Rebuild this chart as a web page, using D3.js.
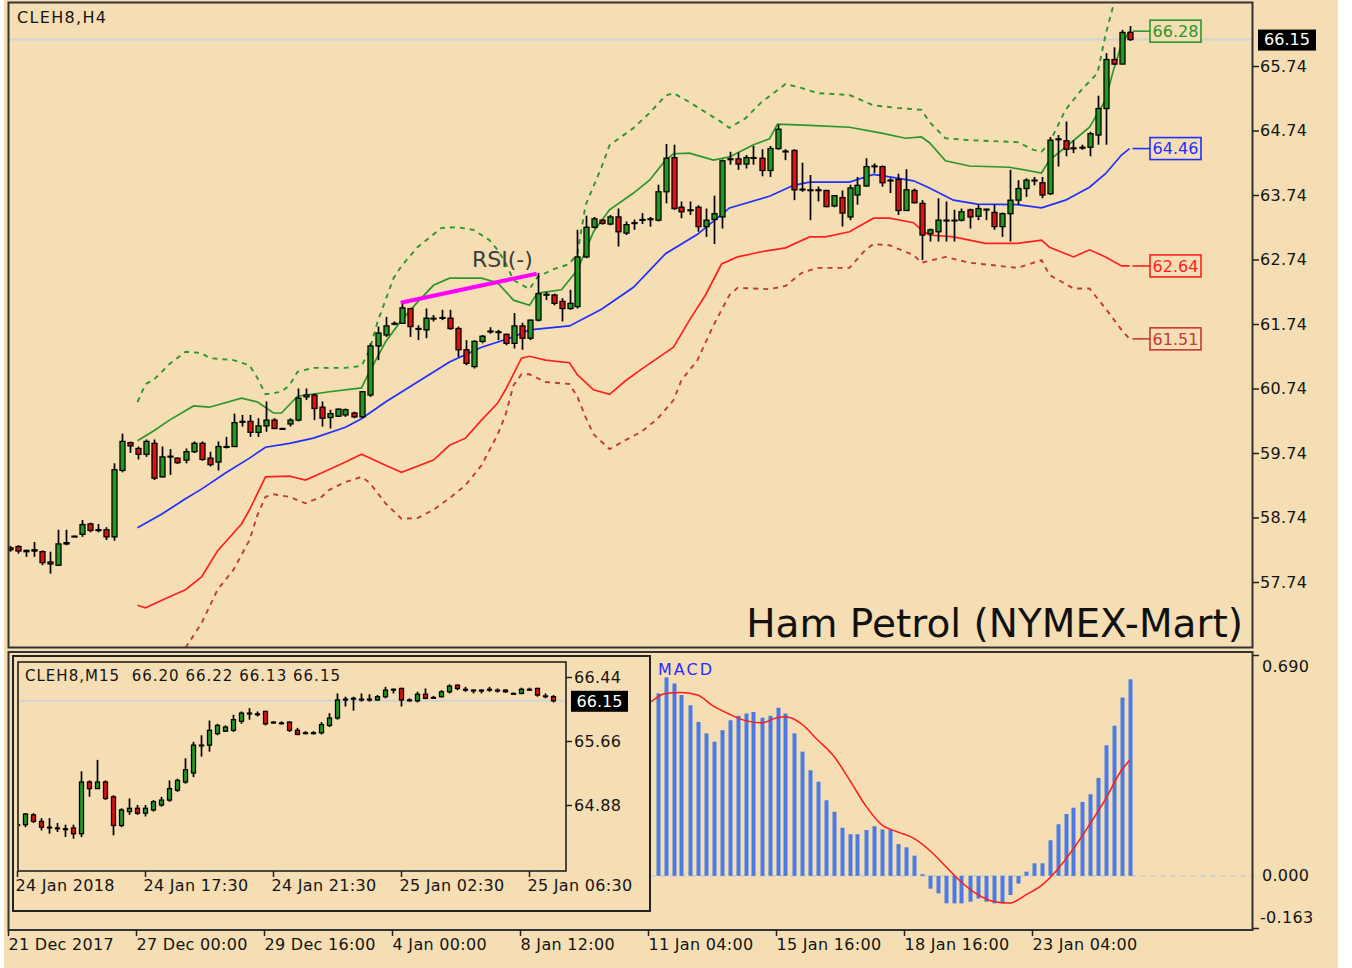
<!DOCTYPE html>
<html>
<head>
<meta charset="utf-8">
<script src="https://cdn.jsdelivr.net/npm/d3@7"></script>
<style>
body { margin: 0; background: #fff; }
svg text { font-family: "DejaVu Sans", sans-serif; }
</style>
</head>
<body>
<div id="chart"></div>
<script>
// H4 candles, bar 0 = 21 Dec 2017
const mainOpen = [58.27,58.29,58.23,58.22,58.21,58.05,58.00,58.33,58.45,58.48,58.64,58.55,58.55,58.44,59.47,59.90,59.81,59.72,59.89,59.37,
  59.69,59.66,59.63,59.76,59.89,59.66,59.60,59.84,59.84,60.23,60.23,60.06,60.16,60.25,60.12,60.19,60.25,60.61,60.64,60.45,
  60.29,60.31,60.33,60.36,60.30,60.64,61.40,61.57,61.74,61.75,61.98,61.67,61.65,61.83,61.83,61.83,61.67,61.34,61.08,61.47,
  61.62,61.62,61.58,61.44,61.71,61.52,61.80,62.19,62.19,62.09,61.98,62.01,62.78,63.24,63.35,63.29,63.40,63.15,63.30,63.35,
  63.36,63.35,63.79,64.32,63.55,63.50,63.55,63.25,63.36,63.40,64.29,64.30,64.22,64.31,64.31,64.12,64.46,64.41,64.43,63.82,
  63.81,63.82,63.81,63.57,63.70,63.40,63.74,63.88,64.18,64.18,63.96,63.98,63.50,63.81,63.61,63.14,63.17,63.34,63.34,63.35,
  63.51,63.41,63.51,63.47,63.25,63.45,63.66,63.84,63.96,63.93,63.76,64.60,64.58,64.46,64.47,64.48,64.67,65.08,65.84,65.77,66.26];
const mainHigh = [58.30,58.31,58.24,58.36,58.23,58.21,58.55,58.55,58.46,58.70,58.66,58.64,58.59,59.58,60.04,59.92,59.84,59.95,59.95,59.84,
  59.80,59.67,59.81,59.92,59.92,59.76,59.92,59.99,60.35,60.33,60.33,60.28,60.54,60.28,60.13,60.28,60.74,60.74,60.66,60.54,
  60.41,60.43,60.43,60.38,60.69,61.44,61.70,61.85,61.78,62.06,61.98,61.72,61.98,61.88,61.96,61.96,61.70,61.49,61.49,61.57,
  61.69,61.65,61.59,61.91,61.76,61.81,62.53,62.24,62.21,62.14,62.27,63.20,63.42,63.40,63.36,63.43,63.53,63.33,63.36,63.46,
  63.40,63.90,64.53,64.52,63.64,63.64,63.58,63.53,63.73,64.29,64.41,64.40,64.36,64.50,64.45,64.50,64.83,64.45,64.45,64.24,
  64.05,63.87,63.82,63.74,63.81,63.90,64.02,64.31,64.23,64.20,64.00,64.07,64.14,63.84,63.66,63.22,63.69,63.64,63.51,63.53,
  63.53,63.59,63.53,63.59,63.47,64.13,63.97,64.00,64.02,64.02,64.64,64.67,64.88,64.59,64.52,64.72,65.28,65.94,66.03,66.30,66.36];
const mainLow = [58.21,58.18,58.13,58.13,58.00,57.87,57.99,58.31,58.44,58.44,58.51,58.51,58.39,58.38,59.44,59.74,59.64,59.68,59.32,59.36,
  59.40,59.57,59.58,59.74,59.62,59.53,59.47,59.81,59.84,60.15,59.99,59.99,60.07,60.11,60.11,60.15,60.23,60.56,60.25,60.15,
  60.12,60.30,60.30,60.28,60.28,60.61,61.18,61.54,61.72,61.75,61.54,61.49,61.52,61.78,61.80,61.65,61.23,61.10,61.05,61.44,
  61.59,61.49,61.41,61.36,61.34,61.49,61.78,62.11,62.03,61.78,61.96,61.98,62.76,63.22,63.28,63.27,62.94,63.12,63.20,63.29,
  63.25,63.33,63.61,63.51,63.38,63.43,63.17,63.09,62.98,63.22,64.21,64.13,64.15,64.21,64.03,64.02,64.44,64.28,63.66,63.79,
  63.35,63.64,63.55,63.55,63.25,63.35,63.59,63.87,64.08,63.87,63.77,63.43,63.50,63.61,62.73,63.02,63.02,63.02,63.02,63.33,
  63.22,63.35,63.35,63.20,63.09,63.02,63.59,63.71,63.89,63.69,63.74,64.18,64.34,64.39,64.44,64.34,64.52,64.52,65.76,65.77,66.13];
const mainClose = [58.24,58.22,58.21,58.24,58.04,58.02,58.33,58.35,58.45,58.63,58.54,58.55,58.44,59.48,59.92,59.85,59.72,59.92,59.35,59.68,
  59.69,59.59,59.76,59.89,59.64,59.56,59.84,59.84,60.21,60.23,60.06,60.16,60.25,60.12,60.12,60.25,60.59,60.64,60.43,60.28,
  60.35,60.42,60.41,60.30,60.69,61.40,61.60,61.71,61.75,61.99,61.70,61.67,61.83,61.83,61.84,61.67,61.34,61.13,61.47,61.55,
  61.63,61.62,61.44,61.71,61.52,61.80,62.21,62.20,62.06,61.98,62.06,62.78,63.24,63.37,63.30,63.40,63.17,63.28,63.31,63.36,
  63.37,63.79,64.31,63.53,63.48,63.51,63.25,63.35,63.45,64.27,64.30,64.22,64.32,64.32,64.12,64.46,64.76,64.42,63.82,63.83,
  63.82,63.81,63.56,63.73,63.46,63.85,63.89,64.18,64.19,63.93,63.97,63.50,63.82,63.62,63.12,63.20,63.35,63.35,63.35,63.48,
  63.40,63.53,63.52,63.25,63.45,63.66,63.84,63.97,63.97,63.74,64.59,64.61,64.45,64.47,64.48,64.69,65.08,65.84,65.77,66.26,66.15];

// bands: [bar index] -> price
const midIdx = [16,19,22,24,27,30,32,35,38,42,44,47,51,55,59,63,65,70,74,78,82,86,90,95,98,100,105,108,110,113,115,118,121,126,129,132,135,137,139,140];
const midVal = [58.58,58.79,59.03,59.18,59.43,59.66,59.83,59.89,59.97,60.14,60.27,60.53,60.84,61.15,61.38,61.54,61.65,61.71,61.97,62.31,62.83,63.13,63.54,63.72,63.89,63.94,63.94,64.06,64.02,63.96,63.85,63.66,63.60,63.59,63.54,63.66,63.86,64.07,64.36,64.46];
const upIdx = [16,18,20,23,25,29,31,33,34,36,40,44,45,46,47,49,51,53,55,59,61,63,65,66,69,71,73,75,78,80,82,83,85,88,90,93,95,96,100,105,109,112,114,115,117,120,125,129,130,132,135,137,138,139,140];
const upVal = [59.93,60.08,60.25,60.47,60.45,60.59,60.53,60.36,60.36,60.62,60.69,60.75,61.00,61.23,61.46,61.80,62.08,62.34,62.45,62.45,62.38,62.11,62.03,62.22,62.27,62.58,63.17,63.51,63.77,63.97,64.28,64.38,64.39,64.28,64.33,64.52,64.61,64.84,64.82,64.79,64.70,64.62,64.64,64.55,64.27,64.19,64.17,64.08,64.28,64.48,64.79,65.21,65.68,66.07,66.28];
const lowIdx = [16,17,20,22,24,26,29,30,32,35,37,39,42,44,47,49,53,55,57,59,61,62,64,65,67,70,71,73,75,77,79,83,85,87,89,91,94,97,100,102,105,108,110,113,114,115,118,122,126,129,130,133,135,137,139,140];
const lowVal = [57.38,57.34,57.51,57.62,57.82,58.22,58.64,58.86,59.37,59.38,59.32,59.43,59.60,59.72,59.55,59.44,59.63,59.86,59.97,60.25,60.51,60.72,61.21,61.24,61.18,61.14,60.95,60.72,60.65,60.86,61.04,61.38,61.80,62.19,62.67,62.78,62.86,62.92,63.09,63.09,63.17,63.38,63.38,63.31,63.20,63.12,63.09,62.99,62.99,63.04,62.93,62.78,62.89,62.78,62.64,62.64];
const up2Idx = [16,17,18,20,22,24,25,28,30,31,32,34,35,36,38,42,44,45,46,48,49,51,54,56,58,60,61,62,63,65,66,68,70,71,72,74,75,78,80,82,83,85,86,89,90,92,94,97,99,101,105,108,111,114,115,117,120,126,128,129,130,132,134,136,137,138,139,140];
const up2Val = [60.53,60.81,60.87,61.12,61.31,61.29,61.21,61.18,61.10,60.90,60.65,60.69,60.79,61.00,61.06,61.06,61.09,61.34,61.77,62.45,62.64,62.93,63.23,63.24,63.20,63.04,62.89,62.69,62.42,62.28,62.47,62.59,62.67,62.84,63.58,64.17,64.51,64.78,65.01,65.28,65.32,65.18,65.10,64.87,64.78,64.93,65.18,65.46,65.40,65.32,65.29,65.13,65.09,65.06,64.87,64.62,64.59,64.56,64.44,64.41,64.55,65.06,65.37,65.63,66.22,66.69,67.07,67.38];
const low2Idx = [22,24,26,28,30,31,32,33,35,37,39,40,42,44,45,47,49,51,53,55,57,59,61,62,63,64,65,67,70,71,72,73,75,77,79,81,83,84,86,88,90,91,95,97,99,101,105,107,108,110,113,114,117,120,126,129,130,133,135,137,139,140];
const low2Val = [56.72,57.10,57.62,57.93,58.39,58.78,59.06,59.10,59.06,58.96,59.06,59.17,59.29,59.37,59.28,58.96,58.72,58.73,58.86,59.04,59.24,59.55,60.02,60.33,60.79,60.96,60.96,60.84,60.81,60.61,60.30,60.03,59.80,59.94,60.07,60.27,60.56,60.87,61.18,61.72,62.19,62.30,62.28,62.33,62.53,62.61,62.61,62.89,62.98,62.96,62.81,62.69,62.78,62.69,62.61,62.73,62.50,62.29,62.29,61.98,61.65,61.51];

const priceTicks = [65.74,64.74,63.74,62.74,61.74,60.74,59.74,58.74,57.74];
const timeIdx = [0,16,32,48,64,80,96,112,128];
const timeLabels = ['21 Dec 2017','27 Dec 00:00','29 Dec 16:00','4 Jan 00:00','8 Jan 12:00','11 Jan 04:00','15 Jan 16:00','18 Jan 16:00','23 Jan 04:00'];

// MACD (bars 81..140) and signal
const macdStart = 81;
const macdVal = [0.570,0.620,0.601,0.565,0.533,0.481,0.445,0.419,0.455,0.486,0.500,0.507,0.512,0.494,0.500,0.525,0.507,0.445,0.388,0.330,
  0.294,0.236,0.200,0.150,0.130,0.130,0.143,0.155,0.145,0.145,0.099,0.089,0.063,0.005,-0.040,-0.055,-0.086,-0.086,-0.086,-0.081,
  -0.071,-0.081,-0.086,-0.086,-0.060,-0.024,0.013,0.039,0.039,0.111,0.161,0.193,0.213,0.231,0.255,0.306,0.408,0.469,0.557,0.614];
const sigIdx = [80,82,84,86,88,90,92,94,96,97,99,101,103,105,107,109,111,113,115,117,119,121,123,125,127,129,131,133,135,137,139,140];
const sigVal = [0.54,0.57,0.573,0.565,0.53,0.505,0.485,0.478,0.495,0.497,0.475,0.425,0.375,0.30,0.22,0.16,0.1375,0.118,0.08,0.03,-0.02,-0.058,-0.08,-0.085,-0.06,-0.03,0.02,0.085,0.16,0.24,0.33,0.36];
const macdTicks = [0.690, 0.000, -0.163];

// M15 inset candles, bar 0 = 24 Jan 2018
const insOpen = [64.64,64.64,64.76,64.68,64.61,64.60,64.59,64.60,64.53,65.16,65.08,65.16,64.98,64.63,64.80,64.84,64.78,64.82,64.88,64.94,
  65.06,65.16,65.27,65.61,65.61,65.75,65.78,65.79,65.90,66.00,65.99,66.02,65.89,65.88,65.89,65.79,65.76,65.76,65.76,65.85,
  65.94,66.17,66.18,66.17,66.17,66.16,66.20,66.29,66.30,66.16,66.15,66.23,66.19,66.20,66.26,66.34,66.29,66.28,66.28,66.29,
  66.28,66.28,66.24,66.24,66.29,66.30,66.21,66.20];
const insHigh = [64.66,64.78,64.78,64.72,64.72,64.66,64.64,64.64,65.29,65.18,65.43,65.18,65.00,64.84,64.96,64.88,64.88,64.94,64.98,65.18,
  65.20,65.45,65.65,65.73,65.91,65.87,65.85,65.98,66.02,66.06,66.02,66.03,65.90,65.90,65.90,65.82,65.78,65.78,65.89,66.00,
  66.24,66.20,66.20,66.24,66.23,66.22,66.32,66.30,66.31,66.18,66.26,66.30,66.21,66.28,66.35,66.35,66.32,66.29,66.29,66.32,
  66.30,66.29,66.25,66.31,66.31,66.31,66.24,66.22];
const insLow = [64.61,64.61,64.66,64.57,64.53,64.55,64.49,64.47,64.49,64.98,65.08,64.94,64.51,64.61,64.76,64.76,64.74,64.80,64.86,64.92,
  65.04,65.14,65.22,65.47,65.53,65.73,65.77,65.77,65.87,65.92,65.96,65.85,65.87,65.86,65.77,65.73,65.74,65.74,65.74,65.83,
  65.92,66.08,66.03,66.14,66.14,66.15,66.18,66.24,66.08,66.14,66.13,66.17,66.18,66.19,66.24,66.28,66.26,66.24,66.24,66.26,
  66.25,66.25,66.23,66.23,66.27,66.20,66.18,66.13];
const insClose = [64.64,64.77,64.68,64.61,64.61,64.60,64.59,64.53,65.16,65.08,65.16,64.96,64.63,64.82,64.84,64.78,64.84,64.92,64.94,65.08,
  65.18,65.31,65.61,65.61,65.79,65.85,65.83,65.92,66.00,66.00,65.99,65.87,65.89,65.88,65.79,65.74,65.76,65.76,65.86,65.94,
  66.16,66.17,66.18,66.17,66.17,66.20,66.28,66.29,66.16,66.16,66.23,66.18,66.19,66.26,66.33,66.30,66.29,66.28,66.28,66.29,
  66.28,66.26,66.24,66.29,66.29,66.22,66.21,66.15];
const insTicks = [66.44, 65.66, 64.88];
const insTimeIdx = [0,16,32,48,64];
const insTimeLabels = ['24 Jan 2018','24 Jan 17:30','24 Jan 21:30','25 Jan 02:30','25 Jan 06:30'];

const rsiFrom = {i: 48.9, v: 62.07}, rsiTo = {i: 65.9, v: 62.52};

const bg = '#f5deb3', ink = '#141414';
const cGreen = '#229922', cRed = '#dd1111', cBlue = '#1f2fff', cBand = '#2b962b', cLow = '#ff2020', cLow2 = '#c03a3a';
const fmt2 = d3.format('.2f');
const fmt3 = d => d3.format('.3f')(d).replace('\u2212', '-');

const width = 1352, height = 968;
const svg = d3.select('#chart').append('svg')
    .attr('width', width).attr('height', height);

svg.append('rect').attr('x', 4).attr('width', 1334).attr('height', height).attr('fill', bg);

const defs = svg.append('defs');
defs.append('clipPath').attr('id', 'mainClip').append('rect')
    .attr('x', 9).attr('y', 3).attr('width', 1243).attr('height', 644);
defs.append('clipPath').attr('id', 'macdClip').append('rect')
    .attr('x', 9).attr('y', 653).attr('width', 1243).attr('height', 276);
defs.append('clipPath').attr('id', 'insClip').append('rect')
    .attr('x', 19).attr('y', 663).attr('width', 546).attr('height', 207);

// scales
const x = d3.scaleLinear().domain([0, 140]).range([9.5, 1129.5]);
const y = d3.scaleLinear().domain([57.74, 65.74]).range([582, 66]);
const yM = d3.scaleLinear().domain([-0.163, 0.690]).range([928, 655]);
const xi = d3.scaleLinear().domain([0, 67]).range([17, 553]);
const yi = d3.scaleLinear().domain([64.88, 66.44]).range([805, 677]);

function candles(g, xs, ys, O, H, L, C, bw) {
    const data = O.map((o, i) => ({i, o, h: H[i], l: L[i], c: C[i]}));
    g.selectAll('.wick').data(data).join('line')
        .attr('class', 'wick')
        .attr('x1', d => Math.round(xs(d.i)) + 0.5).attr('x2', d => Math.round(xs(d.i)) + 0.5)
        .attr('y1', d => ys(d.h)).attr('y2', d => ys(d.l))
        .attr('stroke', '#000').attr('stroke-width', 1.7);
    g.selectAll('.body').data(data).join('rect')
        .attr('class', 'body')
        .attr('x', d => Math.round(xs(d.i)) + 0.5 - bw / 2)
        .attr('y', d => ys(Math.max(d.o, d.c)))
        .attr('width', bw)
        .attr('height', d => Math.max(0.8, Math.abs(ys(d.o) - ys(d.c))))
        .attr('fill', d => d.c > d.o ? cGreen : d.c < d.o ? cRed : '#000')
        .attr('stroke', '#000').attr('stroke-width', 1.3);
}

function bandLine(idx, val) {
    return d3.line().x(d => x(d[0])).y(d => y(d[1]))(idx.map((d, k) => [d, val[k]]));
}

function styleAxisText(sel, size) {
    sel.selectAll('text').attr('font-size', size).attr('fill', ink)
        .attr('font-family', '"DejaVu Sans", sans-serif').attr('letter-spacing', 0.3);
}

// ---------- main H4 panel ----------
const plot = svg.append('g').attr('clip-path', 'url(#mainClip)');
const lastClose = mainClose[mainClose.length - 1];

plot.append('line')
    .attr('x1', 9).attr('x2', 1253)
    .attr('y1', y(lastClose)).attr('y2', y(lastClose))
    .attr('stroke', '#cfd3d6').attr('stroke-width', 2);

const bands = [
    {idx: up2Idx, val: up2Val, color: cBand, dash: '5,5', w: 1.9},
    {idx: low2Idx, val: low2Val, color: cLow2, dash: '5,5', w: 1.9},
    {idx: upIdx, val: upVal, color: cBand, dash: null, w: 1.7},
    {idx: lowIdx, val: lowVal, color: cLow, dash: null, w: 1.7},
    {idx: midIdx, val: midVal, color: cBlue, dash: null, w: 1.7}
];
bands.forEach(b => {
    plot.append('path')
        .attr('d', bandLine(b.idx, b.val))
        .attr('fill', 'none').attr('stroke', b.color).attr('stroke-width', b.w)
        .attr('stroke-dasharray', b.dash);
});

candles(plot.append('g'), x, y, mainOpen, mainHigh, mainLow, mainClose, 5);

// RSI divergence line
plot.append('line')
    .attr('x1', x(rsiFrom.i)).attr('y1', y(rsiFrom.v))
    .attr('x2', x(rsiTo.i)).attr('y2', y(rsiTo.v))
    .attr('stroke', '#ff00ff').attr('stroke-width', 4);
plot.append('text')
    .attr('x', x(57.8)).attr('y', y(62.62))
    .attr('font-size', 22).attr('fill', '#3d3d3d')
    .text('RSI(-)');

// right end labels of the bands
const boxX = 1150, boxW = 51, boxH = 22;
[[upVal, cBand], [midVal, cBlue], [lowVal, cLow], [low2Val, cLow2]].forEach(([vals, col]) => {
    const v = vals[vals.length - 1];
    const g = svg.append('g');
    g.append('line')
        .attr('x1', x(140) + 3).attr('x2', boxX)
        .attr('y1', y(v)).attr('y2', y(v))
        .attr('stroke', col).attr('stroke-width', 1.6);
    g.append('rect')
        .attr('x', boxX).attr('y', y(v) - boxH / 2)
        .attr('width', boxW).attr('height', boxH)
        .attr('fill', bg).attr('stroke', col).attr('stroke-width', 1.6);
    g.append('text')
        .attr('x', boxX + boxW / 2).attr('y', y(v)).attr('dy', '0.36em')
        .attr('text-anchor', 'middle').attr('font-size', 16).attr('fill', col)
        .text(fmt2(v));
});

svg.append('text')
    .attr('x', 17).attr('y', 23)
    .attr('font-size', 16).attr('fill', ink)
    .attr('textLength', 89).attr('lengthAdjust', 'spacing')
    .text('CLEH8,H4');

svg.append('text')
    .attr('x', 1243).attr('y', 637)
    .attr('text-anchor', 'end').attr('font-size', 39).attr('fill', '#111')
    .text('Ham Petrol (NYMEX-Mart)');

// frame + price axis
svg.append('rect')
    .attr('x', 8.5).attr('y', 2.5).attr('width', 1244).attr('height', 645)
    .attr('fill', 'none').attr('stroke', '#333').attr('stroke-width', 2);

const yAxis = svg.append('g')
    .attr('transform', 'translate(1253,0)')
    .call(d3.axisRight(y).tickValues(priceTicks).tickSize(6).tickFormat(fmt2));
yAxis.select('.domain').remove();
yAxis.selectAll('line').attr('stroke', '#222').attr('stroke-width', 1.5);
styleAxisText(yAxis, 16);
yAxis.selectAll('text').attr('x', 7);

svg.append('rect')
    .attr('x', 1258).attr('y', y(lastClose) - 10).attr('width', 58).attr('height', 21)
    .attr('fill', '#000');
svg.append('text')
    .attr('x', 1287).attr('y', y(lastClose)).attr('dy', '0.36em')
    .attr('text-anchor', 'middle').attr('font-size', 16).attr('fill', '#fff')
    .text(fmt2(lastClose));

// ---------- MACD panel ----------
const macd = svg.append('g').attr('clip-path', 'url(#macdClip)');
macd.append('line')
    .attr('x1', 640).attr('x2', 1253)
    .attr('y1', yM(0)).attr('y2', yM(0))
    .attr('stroke', '#c4ccd6').attr('stroke-width', 1.5).attr('stroke-dasharray', '6,4');
macd.selectAll('.hist').data(macdVal).join('rect')
    .attr('class', 'hist')
    .attr('x', (d, k) => Math.round(x(macdStart + k)) - 1.5)
    .attr('y', d => Math.min(yM(d), yM(0)))
    .attr('width', 4)
    .attr('height', d => Math.abs(yM(d) - yM(0)))
    .attr('fill', '#4a7ae6');
macd.append('path')
    .attr('d', d3.line().x(d => x(d[0])).y(d => yM(d[1])).curve(d3.curveMonotoneX)(sigIdx.map((d, k) => [d, sigVal[k]])))
    .attr('fill', 'none').attr('stroke', '#ff1a1a').attr('stroke-width', 1.5);
svg.append('text')
    .attr('x', 658).attr('y', 675)
    .attr('font-size', 16).attr('fill', '#2b2bff')
    .attr('textLength', 54).attr('lengthAdjust', 'spacing')
    .text('MACD');

svg.append('rect')
    .attr('x', 8.5).attr('y', 652).attr('width', 1244).attr('height', 278)
    .attr('fill', 'none').attr('stroke', '#333').attr('stroke-width', 2);

const mAxis = svg.append('g')
    .attr('transform', 'translate(1253,0)')
    .call(d3.axisRight(yM).tickValues(macdTicks).tickSize(6).tickFormat(fmt3));
mAxis.select('.domain').remove();
mAxis.selectAll('line').attr('stroke', '#222').attr('stroke-width', 1.5)
    .attr('x2', d => d === 0 ? 0 : 6);
styleAxisText(mAxis, 16);
mAxis.selectAll('text').attr('x', d => d < 0 ? 7 : 9)
    .attr('dy', d => d > 0.5 ? '1.0em' : d < 0 ? '-0.35em' : '0.32em');

// time axis
const tAxis = svg.append('g')
    .attr('transform', 'translate(-1.5,930)')
    .call(d3.axisBottom(x).tickValues(timeIdx).tickSize(6)
        .tickFormat((d, k) => timeLabels[k]));
tAxis.select('.domain').remove();
tAxis.selectAll('line').attr('stroke', '#222').attr('stroke-width', 1.5);
styleAxisText(tAxis, 16);
tAxis.selectAll('text').attr('text-anchor', 'start').attr('y', 9).attr('x', 0);

// ---------- M15 inset ----------
const ins = svg.append('g');
ins.append('rect')
    .attr('x', 13).attr('y', 656).attr('width', 637).attr('height', 255)
    .attr('fill', bg).attr('stroke', '#222').attr('stroke-width', 2);
const insPlot = ins.append('g').attr('clip-path', 'url(#insClip)');
insPlot.append('line')
    .attr('x1', 18).attr('x2', 566)
    .attr('y1', yi(lastClose)).attr('y2', yi(lastClose))
    .attr('stroke', '#cfd3d6').attr('stroke-width', 2);
candles(insPlot.append('g'), xi, yi, insOpen, insHigh, insLow, insClose, 4);
ins.append('rect')
    .attr('x', 18).attr('y', 662).attr('width', 548).attr('height', 209)
    .attr('fill', 'none').attr('stroke', '#222').attr('stroke-width', 1.6);
ins.append('text')
    .attr('x', 25).attr('y', 681)
    .attr('font-size', 15).attr('fill', ink)
    .attr('textLength', 315).attr('lengthAdjust', 'spacing')
    .style('white-space', 'pre')
    .text('CLEH8,M15  ' + [insOpen, insHigh, insLow, insClose].map(a => a[a.length - 1].toFixed(2)).join(' '));

const iyAxis = ins.append('g')
    .attr('transform', 'translate(566,0)')
    .call(d3.axisRight(yi).tickValues(insTicks).tickSize(6).tickFormat(fmt2));
iyAxis.select('.domain').remove();
iyAxis.selectAll('line').attr('stroke', '#222').attr('stroke-width', 1.5);
styleAxisText(iyAxis, 16);
iyAxis.selectAll('text').attr('x', 8);
ins.append('rect')
    .attr('x', 571).attr('y', yi(lastClose) - 10).attr('width', 57).attr('height', 21)
    .attr('fill', '#000');
ins.append('text')
    .attr('x', 599.5).attr('y', yi(lastClose)).attr('dy', '0.36em')
    .attr('text-anchor', 'middle').attr('font-size', 16).attr('fill', '#fff')
    .text(fmt2(lastClose));

const ixAxis = ins.append('g')
    .attr('transform', 'translate(0,871)')
    .call(d3.axisBottom(xi).tickValues(insTimeIdx).tickSize(6)
        .tickFormat((d, k) => insTimeLabels[k]));
ixAxis.select('.domain').remove();
ixAxis.selectAll('line').attr('stroke', '#222').attr('stroke-width', 1.5);
styleAxisText(ixAxis, 16);
ixAxis.selectAll('text').attr('text-anchor', 'start').attr('y', 9).attr('x', -2);
</script>
</body>
</html>
